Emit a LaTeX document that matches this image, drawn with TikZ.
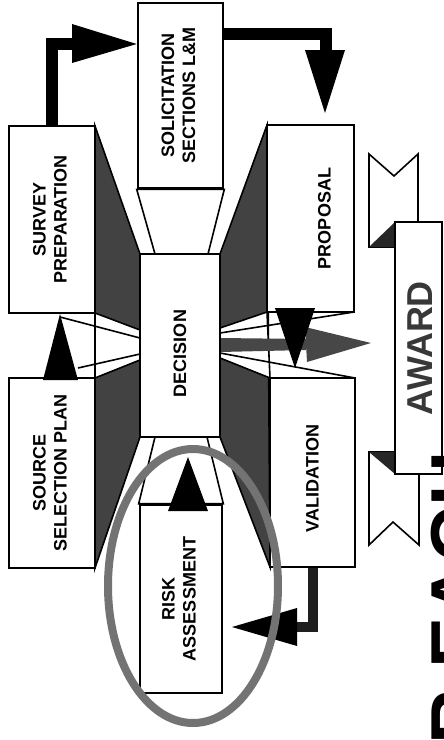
\documentclass[tikz,border=0pt]{standalone}
\usepackage{fontspec}
\setmainfont{Liberation Sans}
\usetikzlibrary{calc}
\pgfdeclarelayer{bg}
\pgfsetlayers{bg,main}
\begin{document}
\begin{tikzpicture}[x=0.5pt,y=-0.5pt, line join=miter,
  box/.style={draw=black, line width=1.3pt, fill=white, inner sep=0pt, font=\bfseries\fontsize{9}{10.5}\selectfont},
  face/.style={fill=black!74, draw=black, line width=0.8pt},
  chan/.style={fill=white, draw=black, line width=0.8pt},
  beam/.style={draw=black, line width=0.8pt},
  tip/.style={fill=black},
  shaft/.style={draw=black, line width=6pt},
  ring/.style={draw=black!55, line width=4pt},
  ribbon/.style={draw=black, line width=0.8pt, fill=white},
  fold/.style={fill=black!85},
]
\useasboundingbox (0,0) rectangle (444,740);
\clip (0,0) rectangle (444,740);

% boxes
\node[box, minimum width=42.5pt, minimum height=92.5pt] (sol) at (180.5,95.5)
  {\rotatebox{90}{\begin{tabular}{@{}c@{}}SOLICITATION\\SECTIONS L\&M\end{tabular}}};
\node[box, minimum width=43pt, minimum height=93.5pt] (surv) at (52,219.5)
  {\rotatebox{90}{\begin{tabular}{@{}c@{}}SURVEY\\PREPARATION\end{tabular}}};
\node[box, minimum width=43pt, minimum height=95pt] (src) at (52,473)
  {\rotatebox{90}{\begin{tabular}{@{}c@{}}SOURCE\\SELECTION PLAN\end{tabular}}};
\node[box, minimum width=40pt, minimum height=91.5pt] (dec) at (180,345.5)
  {\rotatebox{90}{DECISION\hspace*{8pt}}};
\node[box, minimum width=43.5pt, minimum height=93.5pt] (prop) at (310.5,218.5)
  {\hspace*{14pt}\rotatebox{90}{PROPOSAL}};
\node[box, minimum width=42.5pt, minimum height=94.5pt] (val) at (312.5,472.5)
  {\rotatebox{90}{VALIDATION\hspace*{6pt}}};
\node[box, minimum width=41pt, minimum height=94pt] (risk) at (181,599)
  {\rotatebox{90}{\begin{tabular}{@{}c@{}}RISK\\ASSESSMENT\end{tabular}}};

% perspective faces and channels
\begin{pgfonlayer}{bg}
\draw[face] (95,126) -- (140,254) -- (140,437) -- (95,568) -- cycle;
\draw[face] (267,125) -- (220,254) -- (220,437) -- (270,567) -- cycle;
\draw[chan] (sol.south west) -- (155,254) -- (208,254) -- (sol.south east) -- cycle;
\draw[chan] (risk.north west) -- (155,437) -- (207,437) -- (risk.north east) -- cycle;
\draw[chan] (95,313) -- (140,330) -- (140,360) -- (95,378) -- cycle;
\draw[beam] (60,317) -- (140,338);
\draw[beam] (78,368) -- (140,354);
\draw[chan] (267,312) -- (220,328) -- (220,358) -- (270,378) -- cycle;
\draw[beam] (220,333) -- (354,312);
\draw[beam] (220,353) -- (355,378);
\fill[black!72] (220,338) -- (306,339) -- (306,350) -- (220,352) -- cycle;
\end{pgfonlayer}

% connectors
\coordinate (c1) at (74,44);
\draw[shaft] (surv.north) |- (c1);
\fill[tip] (72,24) -- (sol.west |- c1) -- (72,63) -- cycle;

\coordinate (c2) at (0,34);
\coordinate (c3) at (326,52);
\draw[shaft] (sol.east |- c2) -| (c3);
\fill[tip] (305,50) -- (345,50) -- (325,113) -- cycle;

\fill[tip] (43,380) -- (60,314) -- (78,380) -- cycle;
\fill[tip] (168,511) -- (188,457) -- (208,511) -- cycle;

\fill[black!72] (305,327) -- (371,343) -- (307,362) -- cycle;
\fill[tip] (275,308) -- (315,308) -- (295,368) -- cycle;

\coordinate (c4) at (296,627);
\draw[shaft, line width=5pt, draw=black!88] (val.south) |- (c4);
\fill[tip] (297,608) -- (232,627) -- (297,646) -- cycle;

% highlight ring
\draw[ring] (193,586) ellipse [x radius=42.5pt, y radius=68.5pt];

% award ribbon
\draw[ribbon] (369,154) -- (394,176) -- (418,154) -- (418,247) -- (369,247) -- cycle;
\fill[fold] (369,247) -- (395,222) -- (395,247) -- cycle;
\draw[ribbon] (369,452) -- (419,452) -- (419,545) -- (393,522) -- (369,545) -- cycle;
\fill[fold] (369,452) -- (395,452) -- (395,474) -- cycle;
\node[draw=black, line width=0.8pt, fill=white, minimum width=23.5pt, minimum height=126pt, inner sep=0pt,
  font=\bfseries\fontsize{18}{20}\selectfont, text=black!78] (award) at (418.5,348)
  {\hspace*{2pt}\rotatebox{90}{AWARD}};

% large cut-off lettering at the right edge
\node[anchor=south west, inner sep=0pt, outer sep=0pt, font=\bfseries\fontsize{38.25}{40}\selectfont] (big) at (431,851)
  {\rotatebox{90}{FOR EACH}};
\end{tikzpicture}
\end{document}
